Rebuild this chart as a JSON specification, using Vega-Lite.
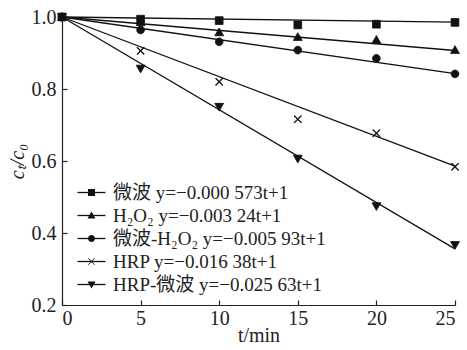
{
  "$schema": "https://vega.github.io/schema/vega-lite/v6.json",
  "width": 393,
  "height": 288,
  "autosize": "none",
  "padding": {"left": 62, "top": 17, "right": 12, "bottom": 45},
  "background": "white",
  "config": {
    "view": {"stroke": null},
    "font": "Liberation Serif",
    "axis": {
      "grid": false,
      "domainColor": "#222",
      "domainWidth": 1.2,
      "tickColor": "#222",
      "tickWidth": 1.2,
      "tickSize": -5,
      "labelColor": "#222",
      "titleColor": "#222",
      "labelFont": "Liberation Serif",
      "labelFontSize": 20,
      "titleFont": "Liberation Serif",
      "titleFontSize": 20,
      "titleFontWeight": "normal"
    }
  },
  "datasets": {
    "points": [
      {"series": "s1", "t": 0, "c": 1.0},
      {"series": "s1", "t": 5, "c": 0.994},
      {"series": "s1", "t": 10, "c": 0.990},
      {"series": "s1", "t": 15, "c": 0.978},
      {"series": "s1", "t": 20, "c": 0.980},
      {"series": "s1", "t": 25, "c": 0.985},
      {"series": "s2", "t": 0, "c": 1.0},
      {"series": "s2", "t": 5, "c": 0.985},
      {"series": "s2", "t": 10, "c": 0.957},
      {"series": "s2", "t": 15, "c": 0.944},
      {"series": "s2", "t": 20, "c": 0.936},
      {"series": "s2", "t": 25, "c": 0.908},
      {"series": "s3", "t": 0, "c": 1.0},
      {"series": "s3", "t": 5, "c": 0.964},
      {"series": "s3", "t": 10, "c": 0.931},
      {"series": "s3", "t": 15, "c": 0.908},
      {"series": "s3", "t": 20, "c": 0.885},
      {"series": "s3", "t": 25, "c": 0.842},
      {"series": "s4", "t": 0, "c": 1.0},
      {"series": "s4", "t": 5, "c": 0.906},
      {"series": "s4", "t": 10, "c": 0.820},
      {"series": "s4", "t": 15, "c": 0.716},
      {"series": "s4", "t": 20, "c": 0.677},
      {"series": "s4", "t": 25, "c": 0.584},
      {"series": "s5", "t": 0, "c": 1.0},
      {"series": "s5", "t": 5, "c": 0.857},
      {"series": "s5", "t": 10, "c": 0.751},
      {"series": "s5", "t": 15, "c": 0.607},
      {"series": "s5", "t": 20, "c": 0.475},
      {"series": "s5", "t": 25, "c": 0.367}
    ],
    "fits": [
      {"series": "s1", "t": 0, "c": 1.0},
      {"series": "s1", "t": 25, "c": 0.9857},
      {"series": "s2", "t": 0, "c": 1.0},
      {"series": "s2", "t": 25, "c": 0.907},
      {"series": "s3", "t": 0, "c": 1.0},
      {"series": "s3", "t": 25, "c": 0.843},
      {"series": "s4", "t": 0, "c": 1.0},
      {"series": "s4", "t": 25, "c": 0.586},
      {"series": "s5", "t": 0, "c": 1.0},
      {"series": "s5", "t": 25, "c": 0.356}
    ]
  },
  "layer": [
    {
      "data": {"name": "fits"},
      "mark": {"type": "line", "strokeWidth": 1.3},
      "encoding": {
        "x": {"field": "t", "type": "quantitative", "scale": {"domain": [0, 25], "nice": false}, "axis": {"values": [0, 5, 10, 15, 20, 25], "title": "t/min", "labelPadding": 8, "titlePadding": -3}},
        "y": {"field": "c", "type": "quantitative", "scale": {"domain": [0.2, 1.0], "nice": false, "zero": false}, "axis": {"values": [0.2, 0.4, 0.6, 0.8, 1.0], "format": ".1f", "title": "cₜ/c₀", "titleFontStyle": "italic", "labelPadding": 11, "titlePadding": 4}},
        "stroke": {
          "field": "series",
          "type": "nominal",
          "scale": {"range": ["#111", "#111", "#111", "#111", "#111"]},
          "legend": {
            "title": null,
            "orient": "none",
            "legendX": 13,
            "legendY": 166,
            "padding": 0,
            "symbolType": "M-4,0H4",
            "symbolSize": 49,
            "symbolStrokeWidth": 1.3,
            "symbolOffset": 7,
            "labelOffset": 12,
            "rowPadding": 3,
            "labelFont": "Liberation Serif, Noto Sans CJK SC",
            "labelFontSize": 19,
            "labelColor": "#222",
            "labelLimit": 400,
            "labelExpr": "datum.value === 's1' ? '微波  y=−0.000 573t+1' : datum.value === 's2' ? 'H₂O₂  y=−0.003 24t+1' : datum.value === 's3' ? '微波-H₂O₂  y=−0.005 93t+1' : datum.value === 's4' ? 'HRP  y=−0.016 38t+1' : 'HRP-微波  y=−0.025 63t+1'"
          }
        }
      }
    },
    {
      "data": {"name": "points"},
      "mark": {"type": "point", "filled": true, "fill": "#111", "stroke": "#111", "strokeWidth": 0.8, "size": 60, "opacity": 1},
      "encoding": {
        "x": {"field": "t", "type": "quantitative"},
        "y": {"field": "c", "type": "quantitative"},
        "shape": {
          "field": "series",
          "type": "nominal",
          "scale": {
            "domain": ["s1", "s2", "s3", "s4", "s5"],
            "range": [
              "M-1,-1H1V1H-1Z",
              "M0,-1.15L1.15,0.85H-1.15Z",
              "M1,0A1,1,0,1,1,-1,0A1,1,0,1,1,1,0Z",
              "M-0.83,-0.97L0.97,0.83L0.83,0.97L-0.97,-0.83ZM-0.83,0.97L-0.97,0.83L0.83,-0.97L0.97,-0.83Z",
              "M0,1.15L1.15,-0.85H-1.15Z"
            ]
          },
          "legend": {
            "title": null,
            "orient": "none",
            "legendX": 13,
            "legendY": 166,
            "padding": 0,
            "symbolSize": 49,
            "symbolOffset": 7,
            "symbolFillColor": "#111",
            "symbolStrokeColor": "#111",
            "symbolStrokeWidth": 1.2,
            "labelOffset": 12,
            "rowPadding": 3,
            "labelFontSize": 19,
            "labelExpr": "' '"
          }
        }
      }
    }
  ]
}
